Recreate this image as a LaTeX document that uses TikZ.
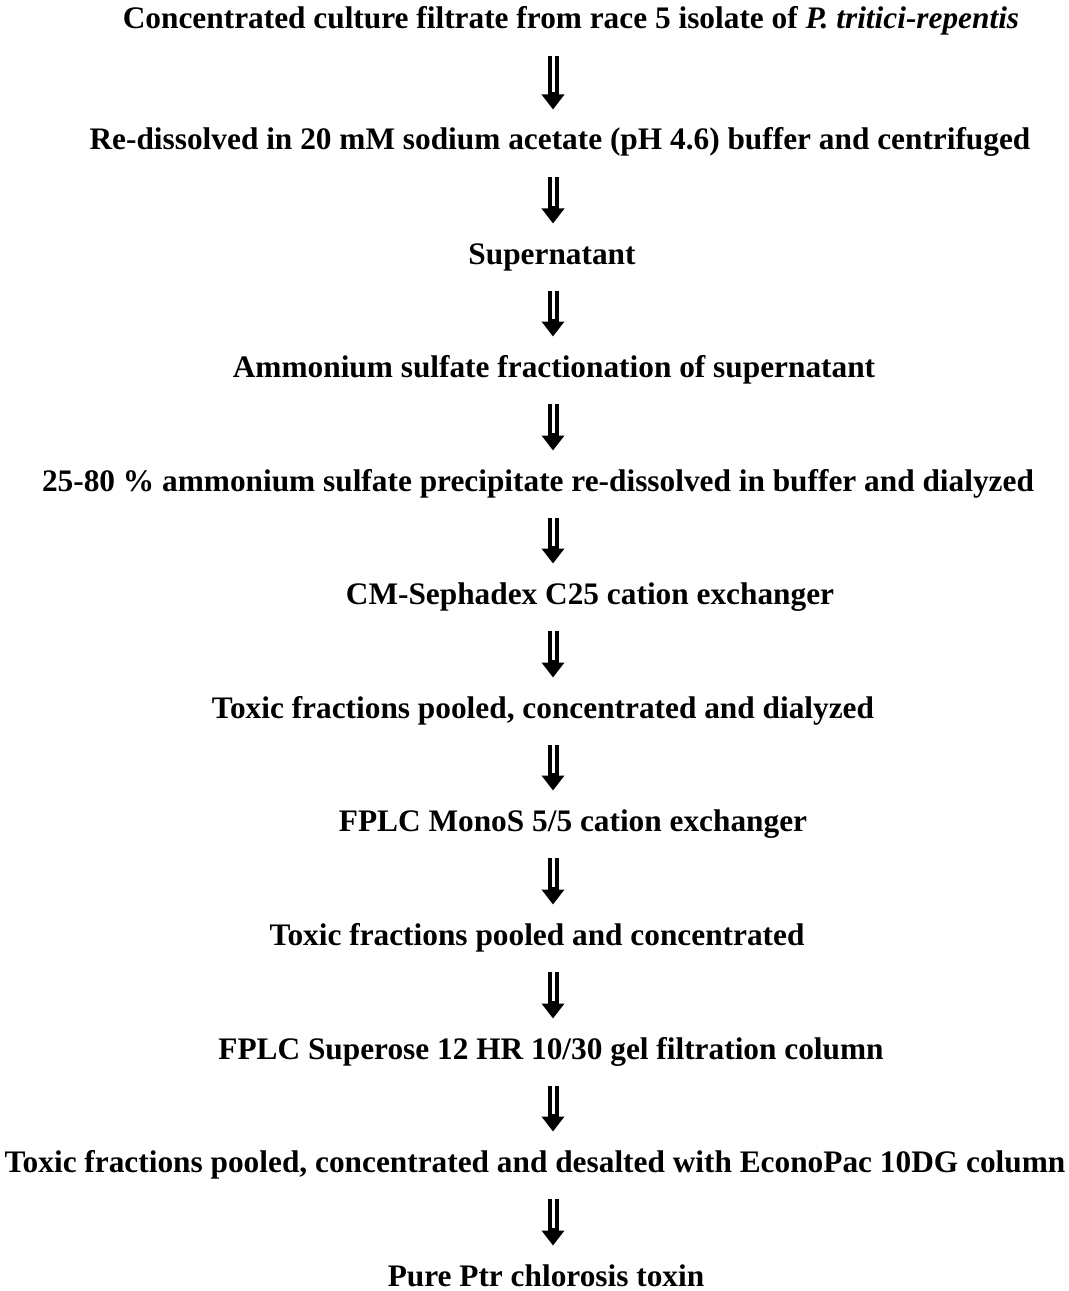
\documentclass[tikz,border=0pt]{standalone}
\usepackage{fontspec}
\setmainfont{Liberation Serif}
\usetikzlibrary{arrows.meta}

\tikzset{every picture/.style={line width=0.75pt}}
\tikzset{
  proc/.style={inner sep=0pt, text height=17pt, text depth=5pt, font=\fontsize{23.5}{28}\selectfont\bfseries},
  flowhead/.style={line width=8.25pt, -{Triangle[width=16.5pt,length=11.25pt]}, shorten <=15pt, shorten >=13pt},
  flowgap/.style={white, line width=2.25pt, shorten <=14pt, shorten >=26pt}
}

\begin{document}
\begin{tikzpicture}[x=0.75pt,y=0.75pt,yscale=-1,xscale=1]
\useasboundingbox (0,0) rectangle (1069,1291);

\coordinate (ax) at (553,0);

% Text Node
\node [proc] (t1) at (571,21) {Concentrated culture filtrate from race 5 isolate of \textit{P. tritici-repentis}};
% Text Node
\node [proc] (t2) at (560,142) {Re-dissolved in 20 mM sodium acetate (pH 4.6) buffer and centrifuged};
% Text Node
\node [proc] (t3) at (552,256) {Supernatant};
% Text Node
\node [proc] (t4) at (554,369) {Ammonium sulfate fractionation of supernatant};
% Text Node
\node [proc] (t5) at (538,483) {25-80 \% ammonium sulfate precipitate re-dissolved in buffer and dialyzed};
% Text Node
\node [proc] (t6) at (590,596) {CM-Sephadex C25 cation exchanger};
% Text Node
\node [proc] (t7) at (543,710) {Toxic fractions pooled, concentrated and dialyzed};
% Text Node
\node [proc] (t8) at (573,823) {FPLC MonoS 5/5 cation exchanger};
% Text Node
\node [proc] (t9) at (537,937) {Toxic fractions pooled and concentrated};
% Text Node
\node [proc] (t10) at (551,1051) {FPLC Superose 12 HR 10/30 gel filtration column};
% Text Node
\node [proc] (t11) at (535,1164) {Toxic fractions pooled, concentrated and desalted with EconoPac 10DG column};
% Text Node
\node [proc] (t12) at (546,1278) {Pure Ptr chlorosis toxin};

%Shape: Double Arrows
\foreach \a/\b in {t1/t2,t2/t3,t3/t4,t4/t5,t5/t6,t6/t7,t7/t8,t8/t9,t9/t10,t10/t11,t11/t12}{
  \draw [flowhead] (\a.south -| ax) -- (\b.north -| ax);
  \draw [flowgap] (\a.south -| ax) -- (\b.north -| ax);
}

\end{tikzpicture}
\end{document}
